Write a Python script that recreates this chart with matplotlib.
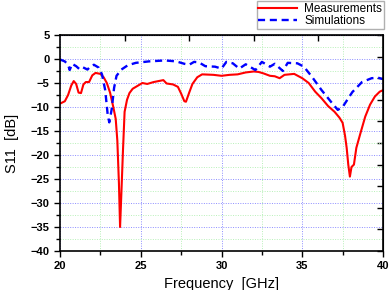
import matplotlib
matplotlib.use("Agg")
import matplotlib.pyplot as plt
import numpy as np

# measured S11 (red)
meas_freq = [20.0, 20.3, 20.5, 20.7, 20.85, 21.0, 21.15, 21.3, 21.45, 21.6, 21.8, 22.0, 22.2,
             22.5, 22.7, 22.9, 23.1, 23.3, 23.45, 23.55, 23.65, 23.72, 23.8, 23.9, 24.0, 24.15,
             24.3, 24.5, 24.8, 25.1, 25.4, 25.8, 26.1, 26.4, 26.6, 27.0, 27.3, 27.5, 27.7, 27.8,
             28.0, 28.2, 28.5, 28.8, 29.5, 30.0, 30.5, 31.0, 31.5, 32.0, 32.3, 32.6, 33.0, 33.3,
             33.6, 33.9, 34.5, 35.0, 35.4, 35.8, 36.2, 36.6, 37.0, 37.3, 37.5, 37.65, 37.75,
             37.85, 37.95, 38.05, 38.2, 38.35, 38.6, 38.9, 39.2, 39.5, 39.8, 40.0]
meas_s11 = [-9.3, -8.8, -7.5, -5.5, -4.6, -5.2, -7.0, -7.1, -5.3, -4.8, -4.8, -3.4, -2.9,
            -3.1, -3.8, -5.0, -7.0, -10.0, -12.5, -17.0, -26.0, -35.0, -28.0, -19.0, -11.0, -8.5,
            -7.1, -6.2, -5.6, -5.0, -5.2, -4.8, -4.6, -4.4, -5.1, -5.3, -5.8, -7.2, -8.8, -8.9,
            -7.0, -5.2, -3.8, -3.2, -3.3, -3.5, -3.3, -3.2, -2.8, -2.6, -2.7, -3.0, -3.5, -3.6,
            -4.0, -3.3, -3.1, -4.0, -5.0, -6.8, -8.2, -9.8, -11.0, -12.2, -13.3, -16.0, -18.5,
            -22.0, -24.5, -22.5, -22.0, -18.5, -15.5, -12.0, -9.5, -7.8, -6.8, -6.5]

# simulated S11 (blue dashed)
sim_freq = [20.0, 20.3, 20.5, 20.6, 20.75, 21.0, 21.2, 21.4, 21.7, 21.9, 22.1, 22.4, 22.6,
            22.8, 22.95, 23.05, 23.2, 23.35, 23.5, 23.8, 24.2, 24.7, 25.5, 26.5, 27.2, 27.7,
            28.0, 28.3, 28.6, 29.0, 29.6, 30.0, 30.3, 30.7, 31.1, 31.5, 32.1, 32.5, 33.0, 33.3,
            33.8, 34.1, 34.7, 35.1, 35.6, 36.2, 36.8, 37.2, 37.5, 38.1, 38.7, 39.3, 39.7, 40.0]
sim_s11 = [-0.1, -0.5, -1.2, -2.3, -1.0, -1.5, -2.1, -1.7, -2.2, -1.5, -1.2, -1.8, -3.2,
           -6.5, -11.5, -13.2, -10.5, -6.0, -3.5, -2.2, -1.3, -0.8, -0.5, -0.3, -0.5, -1.0,
           -1.2, -0.6, -0.7, -1.5, -1.6, -2.0, -0.6, -0.9, -2.0, -1.1, -2.3, -0.6, -1.6, -1.0,
           -2.5, -0.8, -0.9, -1.6, -3.7, -6.5, -9.0, -10.6, -10.0, -6.9, -4.8, -4.0, -3.9, -4.2]

plt.rcParams["font.family"] = ["Liberation Sans", "DejaVu Sans"]

fig = plt.figure(figsize=(3.92, 2.90), dpi=100)
ax = fig.add_axes([60 / 392, 1 - 251 / 290, 323 / 392, 216 / 290])

ax.plot(meas_freq, meas_s11, color="#ff0000", lw=1.5, label="Measurements")
ax.plot(sim_freq, sim_s11, color="#0000ff", lw=1.7, linestyle=(0, (3, 2)), label="Simulations")

ax.set_xlim(20, 40)
ax.set_ylim(-40, 5)
ax.set_xticks(np.arange(20, 41, 5))
ax.set_xticks(np.arange(22.5, 40, 5), minor=True)
ax.set_yticks(np.arange(-40, 6, 5))
ax.set_yticks(np.arange(-37.5, 5, 5), minor=True)

ax.grid(True, which="major", color="#8c8cff", linestyle=(0, (1, 1.5)), lw=0.7)
ax.grid(True, which="minor", color="#b8f0b8", linestyle=(0, (1, 1.5)), lw=0.7)
ax.set_axisbelow(True)

ax.tick_params(which="both", direction="out", width=1.0, labelsize=8)
ax.tick_params(which="major", length=4)
ax.tick_params(which="minor", length=3)
for lab in ax.get_xticklabels() + ax.get_yticklabels():
    lab.set_fontweight("bold")
for sp in ax.spines.values():
    sp.set_linewidth(1.2)

# top and right ticks
top = ax.secondary_xaxis("top")
top.set_xticks([24, 28, 32, 36])
top.tick_params(direction="in", length=4, width=1.0, labeltop=False)
right = ax.secondary_yaxis("right")
right.set_yticks(np.arange(-40, 5.1, 4.5))
right.tick_params(direction="in", length=4, width=1.0, labelright=False)

ax.set_xlabel("Frequency  [GHz]", fontsize=10.5, labelpad=4)
ax.set_ylabel("S11  [dB]", fontsize=10.5, labelpad=8)

fig.legend(loc="upper right", bbox_to_anchor=(384 / 392, 1 - 1 / 290), fontsize=8.5,
           frameon=True, fancybox=False, edgecolor="#b0b0b0", framealpha=1,
           handlelength=3.3, handletextpad=0.6, borderpad=0.15, labelspacing=0.05,
           borderaxespad=0)

fig.savefig("out.png", dpi=100)
